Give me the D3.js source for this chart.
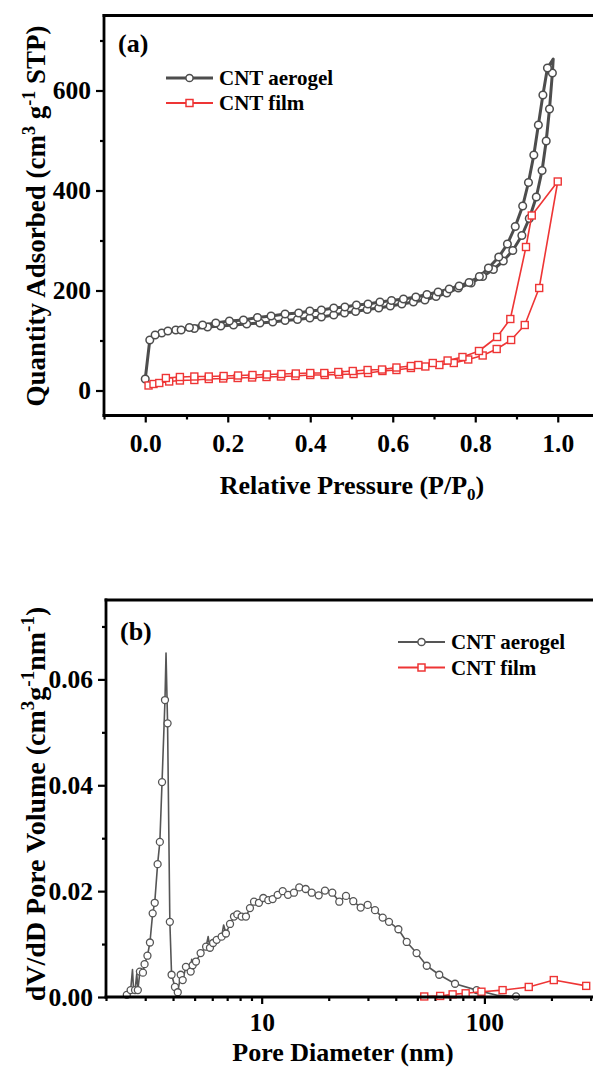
<!DOCTYPE html>
<html>
<head>
<meta charset="utf-8">
<script src="https://cdn.jsdelivr.net/npm/d3@7"></script>
<style>
  body { margin: 0; background: #fff; }
  svg { display: block; }
  text { font-family: "Liberation Serif", "Times New Roman", serif; font-weight: bold; fill: #000; }
</style>
</head>
<body>
<svg id="chart" width="593" height="1072"></svg>
<script>
// ---------- (a) N2 adsorption–desorption isotherms ----------
// CNT aerogel, adsorption branch (P/P0, cm3 g-1 STP)
const aerogelAdsP = [0.000, 0.011, 0.040, 0.074, 0.119, 0.151, 0.183, 0.214, 0.246, 0.278, 0.309, 0.339, 0.369, 0.399, 0.427, 0.457, 0.483, 0.510, 0.538, 0.566, 0.594, 0.622, 0.650, 0.678, 0.705, 0.731, 0.759, 0.790, 0.818, 0.844, 0.868, 0.891, 0.913, 0.931, 0.948, 0.962, 0.972, 0.980, 0.987];
const aerogelAdsV = [23, 101, 115, 121, 124, 127, 129, 131, 133, 135, 137, 140, 142, 145, 147, 151, 155, 158, 162, 165, 169, 173, 177, 181, 188, 195, 205, 215, 228, 242, 259, 280, 310, 344, 387, 440, 499, 563, 635];
// turning point at saturation (line only)
const aerogelTurnP = 0.989;
const aerogelTurnV = 663;
// CNT aerogel, desorption branch
const aerogelDesP = [0.975, 0.964, 0.953, 0.942, 0.929, 0.915, 0.897, 0.878, 0.857, 0.832, 0.810, 0.785, 0.761, 0.737, 0.710, 0.683, 0.656, 0.626, 0.597, 0.569, 0.540, 0.512, 0.484, 0.457, 0.427, 0.399, 0.372, 0.339, 0.305, 0.272, 0.238, 0.204, 0.171, 0.139, 0.107, 0.087, 0.055, 0.024];
const aerogelDesV = [645, 591, 531, 471, 416, 369, 328, 293, 267, 245, 228, 216, 209, 203, 197, 192, 187, 183, 180, 177, 173, 171, 167, 165, 161, 159, 155, 153, 149, 146, 141, 139, 135, 131, 126, 121, 119, 111];

// CNT film, adsorption branch
const filmAdsP = [0.008, 0.020, 0.034, 0.058, 0.084, 0.119, 0.154, 0.189, 0.224, 0.259, 0.294, 0.329, 0.364, 0.400, 0.435, 0.470, 0.505, 0.540, 0.575, 0.609, 0.644, 0.679, 0.713, 0.748, 0.783, 0.818, 0.852, 0.887, 0.920, 0.955, 1.000];
const filmAdsV = [10, 13, 15, 18, 20, 21, 23, 24, 25, 26, 27, 28, 29, 31, 31, 32, 33, 35, 39, 41, 45, 48, 51, 55, 62, 70, 83, 101, 131, 205, 418];
// CNT film, desorption branch
const filmDesP = [0.937, 0.923, 0.885, 0.853, 0.809, 0.769, 0.733, 0.697, 0.662, 0.644, 0.609, 0.574, 0.539, 0.503, 0.468, 0.434, 0.400, 0.365, 0.330, 0.295, 0.260, 0.225, 0.190, 0.154, 0.119, 0.084, 0.050];
const filmDesV = [350, 287, 143, 107, 79, 67, 60, 55, 51, 49, 46, 42, 41, 39, 37, 35, 35, 34, 33, 32, 31, 30, 29, 28, 28, 27, 25];

const isoXTicks = [0.0, 0.2, 0.4, 0.6, 0.8, 1.0];
const isoXMinor = [-0.1, 0.1, 0.3, 0.5, 0.7, 0.9, 1.1];
const isoYTicks = [0, 200, 400, 600];
const isoYMinor = [100, 300, 500, 700];

// ---------- (b) pore size distribution ----------
// CNT aerogel, points carrying markers (nm, cm3 g-1 nm-1)
const psdAerogelD = [2.48, 2.58, 2.70, 2.78, 2.84, 2.93, 2.98, 3.07, 3.15, 3.24, 3.31, 3.41, 3.49, 3.57, 3.68, 3.78, 3.87, 3.94, 4.08, 4.20, 4.33, 4.42, 4.57, 4.80, 4.90, 5.07, 5.32, 5.63, 5.86, 6.05, 6.28, 6.61, 6.91, 7.21, 7.51, 7.77, 8.13, 8.50, 8.86, 9.24, 9.72, 10.17, 10.71, 11.20, 11.80, 12.43, 13.13, 13.96, 14.75, 15.76, 16.77, 18.03, 19.24, 20.75, 22.31, 23.91, 25.78, 27.83, 29.92, 32.27, 34.94, 37.29, 41.1, 44.8, 49.6, 55.1, 62.7, 73.8, 92.3, 138.7];
const psdAerogelV = [0.0004, 0.0013, 0.0013, 0.0013, 0.0048, 0.0046, 0.0062, 0.0078, 0.0103, 0.0158, 0.0178, 0.0251, 0.0293, 0.0406, 0.0561, 0.0517, 0.0142, 0.0042, 0.0019, 0.0009, 0.0042, 0.0032, 0.0057, 0.0048, 0.0060, 0.0067, 0.0083, 0.0095, 0.0093, 0.0102, 0.0108, 0.0114, 0.0120, 0.0138, 0.0152, 0.0156, 0.0152, 0.0152, 0.0168, 0.0180, 0.0178, 0.0187, 0.0183, 0.0185, 0.0193, 0.0200, 0.0193, 0.0197, 0.0207, 0.0204, 0.0197, 0.0192, 0.0201, 0.0197, 0.0180, 0.0191, 0.0181, 0.0169, 0.0174, 0.0164, 0.0150, 0.0142, 0.0128, 0.0104, 0.0083, 0.0059, 0.0042, 0.0025, 0.0013, 0.0001];
// CNT aerogel, intermediate points drawn by the line only
const psdAerogelLineD = [2.63, 2.66, 2.75, 3.72, 4.85, 5.75, 6.75, 115];
const psdAerogelLineV = [0.0052, 0.0012, 0.0044, 0.0650, 0.0071, 0.0114, 0.0136, 0.0003];

// CNT film
const psdFilmD = [53.7, 63.3, 72.0, 82.4, 97.0, 120.7, 158.2, 204.9, 286.5];
const psdFilmV = [0.0001, 0.0002, 0.0005, 0.0007, 0.0010, 0.0013, 0.0019, 0.0032, 0.0021];

const psdXTicks = [10, 100];
const psdXMinor = [2, 3, 4, 5, 6, 7, 8, 9, 20, 30, 40, 50, 60, 70, 80, 90, 200, 300];
const psdYTicks = [0, 0.02, 0.04, 0.06];
const psdYMinor = [0.01, 0.03, 0.05, 0.07];

const seriesNames = ["CNT aerogel", "CNT film"];

// ---------- styles ----------
const GREY = "#4d4d4d";
const GREY_B = "#555555";
const RED = "#ee3535";
const TICK_FONT = 25.5;
const TITLE_FONT = 26;
const LEGEND_FONT = 21;

const svg = d3.select("#chart");
const zip = (a, b) => a.map((v, i) => [v, b[i]]);

// shared axis helpers
function drawYAxis(g, scale, x0, major, minor, fmt) {
  const ax = g.append("g").attr("transform", `translate(${x0},0)`);
  ax.call(d3.axisLeft(scale).tickValues(major).tickSize(8).tickSizeOuter(0).tickFormat(fmt).tickPadding(5));
  ax.append("g").call(d3.axisLeft(scale).tickValues(minor).tickSize(4).tickSizeOuter(0).tickFormat(""));
  ax.selectAll(".domain").remove();
  ax.selectAll("line").attr("stroke", "#000").attr("stroke-width", 2.2);
  ax.selectAll("text").attr("font-size", TICK_FONT).attr("font-family", null).attr("fill", "#000");
  return ax;
}
function drawXAxis(g, scale, y0, major, minor, fmt, labelDrop) {
  const ax = g.append("g").attr("transform", `translate(0,${y0})`);
  ax.call(d3.axisBottom(scale).tickValues(major).tickSize(7).tickSizeOuter(0).tickFormat(fmt));
  ax.append("g").call(d3.axisBottom(scale).tickValues(minor).tickSize(4).tickSizeOuter(0).tickFormat(""));
  ax.selectAll(".domain").remove();
  ax.selectAll("line").attr("stroke", "#000").attr("stroke-width", 2.2);
  ax.selectAll("text").attr("font-size", TICK_FONT).attr("font-family", null).attr("fill", "#000")
    .attr("y", labelDrop).attr("dy", 0);
  return ax;
}
function drawFrame(g, x0, x1, y0, y1) {
  const f = g.append("g").attr("stroke", "#000").attr("stroke-width", 2.8).attr("stroke-linecap", "square");
  f.append("line").attr("x1", x0).attr("x2", x0).attr("y1", y0).attr("y2", y1);
  f.append("line").attr("x1", x0).attr("x2", x1).attr("y1", y1).attr("y2", y1);
  f.append("line").attr("x1", x0).attr("x2", x1).attr("y1", y0).attr("y2", y0);
}
function circles(g, pts, x, y, r, color, sw) {
  g.append("g").selectAll("circle").data(pts).join("circle")
    .attr("cx", d => x(d[0])).attr("cy", d => y(d[1])).attr("r", r)
    .attr("fill", "#fff").attr("stroke", color).attr("stroke-width", sw);
}
function squares(g, pts, x, y, s, color, sw) {
  g.append("g").selectAll("rect").data(pts).join("rect")
    .attr("x", d => x(d[0]) - s / 2).attr("y", d => y(d[1]) - s / 2)
    .attr("width", s).attr("height", s)
    .attr("fill", "#fff").attr("stroke", color).attr("stroke-width", sw);
}
function legend(g, x0, y0, gap, lineW, greyW) {
  const rows = [
    { name: seriesNames[0], color: greyW.color, w: greyW.w, mark: "circle" },
    { name: seriesNames[1], color: RED, w: 2, mark: "square" }
  ];
  rows.forEach((r, i) => {
    const yy = y0 + i * gap;
    g.append("line").attr("x1", x0).attr("x2", x0 + lineW).attr("y1", yy).attr("y2", yy)
      .attr("stroke", r.color).attr("stroke-width", r.w);
    const cx = x0 + lineW / 2;
    if (r.mark === "circle") {
      g.append("circle").attr("cx", cx).attr("cy", yy).attr("r", 3.6)
        .attr("fill", "#fff").attr("stroke", r.color).attr("stroke-width", 1.5);
    } else {
      g.append("rect").attr("x", cx - 3.5).attr("y", yy - 3.5).attr("width", 7).attr("height", 7)
        .attr("fill", "#fff").attr("stroke", r.color).attr("stroke-width", 1.5);
    }
    g.append("text").attr("x", x0 + lineW + 6).attr("y", yy).attr("dy", "0.35em")
      .attr("font-size", LEGEND_FONT).text(r.name);
  });
}

// ================= panel (a) =================
const xA = d3.scaleLinear().domain([-0.1, 1.1]).range([104, 599]);
const yA = d3.scaleLinear().domain([-50, 750]).range([415.5, 15.5]);
const gA = svg.append("g");

drawYAxis(gA, yA, 104, isoYTicks, isoYMinor, d3.format("d"));
drawXAxis(gA, xA, 415.5, isoXTicks, isoXMinor, d3.format(".1f"), 36);

const lineA = d3.line().x(d => xA(d[0])).y(d => yA(d[1]));
const aerogelAds = zip(aerogelAdsP, aerogelAdsV);
const aerogelDes = zip(aerogelDesP, aerogelDesV);
const filmAds = zip(filmAdsP, filmAdsV);
const filmDes = zip(filmDesP, filmDesV);

gA.append("path")
  .attr("d", lineA([...aerogelAds, [aerogelTurnP, aerogelTurnV], ...aerogelDes]))
  .attr("fill", "none").attr("stroke", GREY).attr("stroke-width", 3).attr("stroke-linejoin", "round");
circles(gA, [...aerogelAds, ...aerogelDes], xA, yA, 3.8, GREY, 1.5);

gA.append("path")
  .attr("d", lineA([...filmAds, ...filmDes]))
  .attr("fill", "none").attr("stroke", RED).attr("stroke-width", 1.6).attr("stroke-linejoin", "round");
squares(gA, [...filmAds, ...filmDes], xA, yA, 7, RED, 1.4);

drawFrame(gA, 104, 600, 15.5, 415.5);

gA.append("text").attr("x", 118).attr("y", 52).attr("font-size", TITLE_FONT).text("(a)");
legend(gA, 166, 78, 25, 47, { color: GREY, w: 3 });

// axis titles (a)
const xTitleA = gA.append("text").attr("x", 352).attr("y", 494).attr("text-anchor", "middle").attr("font-size", TITLE_FONT);
xTitleA.append("tspan").text("Relative Pressure (P/P");
xTitleA.append("tspan").attr("font-size", 17).attr("dy", 6).text("0");
xTitleA.append("tspan").attr("dy", -6).text(")");

const yTitleA = gA.append("text").attr("transform", "translate(45,216) rotate(-90)")
  .attr("text-anchor", "middle").attr("font-size", 27);
yTitleA.append("tspan").text("Quantity Adsorbed (cm");
yTitleA.append("tspan").attr("font-size", 18).attr("dy", -10).text("3");
yTitleA.append("tspan").attr("dy", 10).text(" g");
yTitleA.append("tspan").attr("font-size", 18).attr("dy", -10).text("-1");
yTitleA.append("tspan").attr("dy", 10).text(" STP)");

// ================= panel (b) =================
const xB = d3.scaleLog().domain([2, 320]).range([106, 596.9]);
const yB = d3.scaleLinear().domain([0, 0.075]).range([997, 600]);
const gB = svg.append("g");

drawYAxis(gB, yB, 106, psdYTicks, psdYMinor, d3.format(".2f"));
drawXAxis(gB, xB, 997, psdXTicks, psdXMinor, d3.format("d"), 34);

const lineB = d3.line().x(d => xB(d[0])).y(d => yB(d[1]));
const aerogelMarked = zip(psdAerogelD, psdAerogelV);
const aerogelLineOnly = zip(psdAerogelLineD, psdAerogelLineV);
const aerogelFull = [...aerogelMarked, ...aerogelLineOnly].sort((a, b) => a[0] - b[0]);
const film = zip(psdFilmD, psdFilmV);

gB.append("path").attr("d", lineB(aerogelFull))
  .attr("fill", "none").attr("stroke", GREY_B).attr("stroke-width", 1.6).attr("stroke-linejoin", "round");
circles(gB, aerogelMarked, xB, yB, 3.5, GREY_B, 1.3);

gB.append("path").attr("d", lineB(film))
  .attr("fill", "none").attr("stroke", RED).attr("stroke-width", 1.6);
squares(gB, film, xB, yB, 7, RED, 1.4);

drawFrame(gB, 106, 600, 600, 997);

gB.append("text").attr("x", 120).attr("y", 640).attr("font-size", TITLE_FONT).text("(b)");
legend(gB, 398, 642, 25.5, 47, { color: GREY_B, w: 2 });

const xTitleB = gB.append("text").attr("x", 343).attr("y", 1061).attr("text-anchor", "middle").attr("font-size", TITLE_FONT);
xTitleB.text("Pore Diameter (nm)");

const yTitleB = gB.append("text").attr("transform", "translate(45,804) rotate(-90)")
  .attr("text-anchor", "middle").attr("font-size", 28);
yTitleB.append("tspan").text("dV/dD Pore Volume (cm");
yTitleB.append("tspan").attr("font-size", 19).attr("dy", -11).text("3");
yTitleB.append("tspan").attr("dy", 11).text("g");
yTitleB.append("tspan").attr("font-size", 19).attr("dy", -11).text("-1");
yTitleB.append("tspan").attr("dy", 11).text("nm");
yTitleB.append("tspan").attr("font-size", 19).attr("dy", -11).text("-1");
yTitleB.append("tspan").attr("dy", 11).text(")");
</script>
</body>
</html>
